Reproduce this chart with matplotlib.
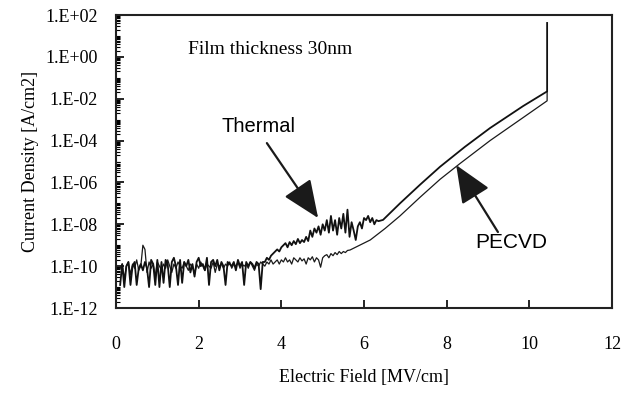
import numpy as np
import matplotlib
matplotlib.use("Agg")
import matplotlib.pyplot as plt
from matplotlib.ticker import FixedLocator, LogLocator, NullFormatter

# log10 of current density [A/cm2]
# low-field part, sampled every 0.05 MV/cm from 0.10 to 3.80
thermal_base = [
    -10.9, -9.9, -11.0, -10.0, -9.8, -10.9, -10.0, -9.8, -10.9, -10.1,
    -9.9, -10.2, -9.8, -10.1, -11.0, -9.7, -9.9, -10.9, -9.7, -11.0,
    -9.8, -10.8, -9.7, -9.9, -11.0, -9.8, -9.6, -10.0, -10.9, -9.7,
    -10.8, -9.8, -10.0, -9.7, -10.3, -9.9, -10.5, -9.8, -9.6, -10.0,
    -9.9, -10.2, -9.6, -10.9, -9.8, -9.7, -10.0, -9.7, -10.2, -9.8,
    -10.0, -10.9, -9.8, -9.9, -10.0, -9.8, -10.2, -9.7, -10.0, -9.8,
    -10.9, -9.8, -10.0, -9.8, -9.9, -10.1, -9.8, -9.9, -11.1, -9.8,
    -9.8, -9.6, -9.7, -9.5, -9.4]
pecvd_base = [
    -10.1, -9.9, -10.6, -10.0, -9.8, -10.4, -9.9, -10.1, -9.7, -10.2,
    -10.0, -9.0, -9.2, -10.3, -9.8, -10.1, -9.9, -10.5, -9.8, -10.0,
    -10.2, -9.9, -10.1, -9.7, -10.0, -10.3, -9.9, -10.1, -9.8, -10.0,
    -10.1, -9.8, -10.0, -10.2, -9.9, -10.0, -10.4, -9.9, -10.1, -9.8,
    -10.0, -10.2, -9.9, -10.0, -10.1, -9.8, -10.3, -9.9, -10.0, -9.9,
    -10.1, -9.9, -10.0, -9.8, -10.1, -9.9, -10.0, -9.8, -10.1, -9.9,
    -10.0, -9.9, -10.1, -9.8, -10.0, -10.2, -9.9, -10.0, -9.8, -9.9,
    -10.0, -9.8, -9.9, -9.7, -9.9]

# noisy rise, every 0.05 MV/cm from 3.85
thermal_rise = [
    -9.3, -9.2, -9.3, -9.1, -9.0, -8.9, -9.1, -8.85, -9.0, -8.8,
    -8.95, -8.7, -8.9, -8.75, -8.85, -8.6, -8.8, -8.3, -8.6, -8.2,
    -8.4, -8.1, -8.5, -8.0, -8.3, -7.8, -8.4, -7.6, -8.3, -7.8,
    -8.5, -7.7, -8.2, -7.5, -8.4, -7.3, -8.6, -7.9, -8.3, -8.75,
    -8.1, -7.9, -8.2, -7.7, -7.8, -7.6, -7.9, -7.7, -8.0, -7.8, -7.85]
pecvd_rise = [
    -9.8, -9.7, -9.9, -9.7, -9.8, -9.6, -9.8, -9.7, -9.9, -9.6,
    -9.7, -9.8, -9.6, -9.75, -9.65, -9.9, -9.6, -9.7, -9.55, -9.8,
    -9.6, -9.7, -10.05, -9.6, -9.5, -9.45, -9.6, -9.4, -9.5, -9.35,
    -9.45, -9.3, -9.4, -9.3, -9.35, -9.25]

# high-field (tunnelling) part
thermal_hi_E = [6.46, 6.87, 7.36, 7.84, 8.44, 9.05, 9.85, 10.43, 10.43]
thermal_hi_J = [-7.79, -7.0, -6.1, -5.25, -4.3, -3.4, -2.35, -1.65, 1.62]
pecvd_hi_E = [5.66, 6.15, 6.51, 6.87, 7.36, 7.84, 8.32, 9.05, 9.85, 10.43, 10.43]
pecvd_hi_J = [-9.23, -8.75, -8.2, -7.6, -6.7, -5.85, -5.1, -4.0, -2.9, -2.1, -1.65]

ytick_exp = [2, 0, -2, -4, -6, -8, -10, -12]
ytick_labels = ["1.E+02", "1.E+00", "1.E-02", "1.E-04", "1.E-06", "1.E-08", "1.E-10", "1.E-12"]
xticks = [0, 2, 4, 6, 8, 10, 12]

serif = "Liberation Serif"
sans = "Liberation Sans"

base_E = 0.10 + 0.05 * np.arange(len(thermal_base))
th_rise_E = 3.85 + 0.05 * np.arange(len(thermal_rise))
pe_rise_E = 3.85 + 0.05 * np.arange(len(pecvd_rise))

th_E = np.concatenate([base_E, th_rise_E, thermal_hi_E])
th_J = 10.0 ** np.array(thermal_base + thermal_rise + thermal_hi_J)
pe_E = np.concatenate([base_E, pe_rise_E, pecvd_hi_E])
pe_J = 10.0 ** np.array(pecvd_base + pecvd_rise + pecvd_hi_J)

fig = plt.figure(figsize=(6.35, 3.98), dpi=100)
ax = fig.add_axes([0.1827, 0.2261, 0.7811, 0.7362])

ax.plot(pe_E, pe_J, color="#1a1a1a", lw=0.9)
ax.plot(th_E, th_J, color="#111111", lw=1.3)

ax.set_yscale("log")
ax.set_xlim(0, 12)
ax.set_ylim(1e-12, 1e2)

ax.yaxis.set_major_locator(FixedLocator([10.0 ** e for e in ytick_exp]))
ax.set_yticklabels(ytick_labels, fontfamily=serif, fontsize=13)
ax.yaxis.set_minor_locator(LogLocator(base=10, subs=np.arange(1, 10), numticks=100))
ax.yaxis.set_minor_formatter(NullFormatter())
ax.set_xticks(xticks)
ax.set_xticklabels([str(t) for t in xticks], fontfamily=serif, fontsize=13)

ax.tick_params(axis="y", which="major", direction="in", length=6, width=1.2, pad=13, right=False)
ax.tick_params(axis="y", which="minor", direction="in", length=3, width=0.8, right=False)
ax.tick_params(axis="x", which="major", direction="in", length=6, width=1.2, pad=20, top=False)
for s in ax.spines.values():
    s.set_linewidth(1.5)
    s.set_color("#222222")

ax.set_xlabel("Electric Field [MV/cm]", fontfamily=serif, fontsize=13, labelpad=12)
ax.set_ylabel("Current Density [A/cm2]", fontfamily=serif, fontsize=13, labelpad=5)

ax.text(1.74, 10 ** 0.33, "Film thickness 30nm", fontfamily=serif, fontsize=14,
        va="center", ha="left")
ax.text(2.56, 10 ** -3.35, "Thermal", fontfamily=sans, fontsize=14.5,
        va="center", ha="left")
ax.text(8.69, 10 ** -8.89, "PECVD", fontfamily=sans, fontsize=15,
        va="center", ha="left")

arrow = dict(arrowstyle="-|>,head_length=1.3,head_width=0.55", color="#1a1a1a",
             lw=1.6, mutation_scale=18, shrinkA=0, shrinkB=0)
ax.annotate("", xy=(4.89, 10 ** -7.70), xytext=(3.65, 10 ** -4.12), arrowprops=arrow)
ax.annotate("", xy=(8.23, 10 ** -5.17), xytext=(9.24, 10 ** -8.37), arrowprops=arrow)

fig.savefig("out.png", dpi=100)
